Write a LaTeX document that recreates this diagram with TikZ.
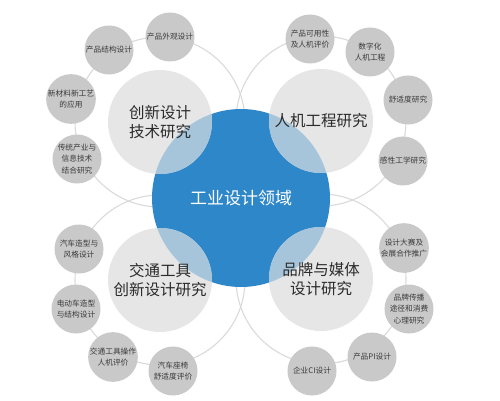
\documentclass[tikz,border=0pt]{standalone}
\usepackage{fontspec}
\setmainfont{Noto Sans CJK SC}
\begin{document}
\begin{tikzpicture}[x=1pt,y=-1pt,
  ring/.style={draw=ringgray,line width=1.1pt},
  hub/.style={circle,fill=hubblue,minimum size=178pt,inner sep=0pt,text=white,font=\fontsize{17}{20}\selectfont},
  topic/.style={circle,fill=topicgray,minimum size=104pt,inner sep=0pt,align=center,text=textdark,
    font=\fontsize{15.5}{19.5}\selectfont,
    path picture={\fill[ovlblue] (c.center) circle[radius=89pt];}},
  leaf/.style={circle,fill=leafgray,minimum size=49pt,inner sep=0pt,align=center,text=textmid,
    font=\fontsize{7.7}{11.5}\selectfont}]
\definecolor{hubblue}{HTML}{2E87C8}
\definecolor{ovlblue}{HTML}{A6C5DB}
\definecolor{topicgray}{HTML}{E6E6E6}
\definecolor{leafgray}{HTML}{C9C9C9}
\definecolor{ringgray}{HTML}{DADADA}
\definecolor{textdark}{HTML}{2B2B2B}
\definecolor{textmid}{HTML}{3A3A3A}
\useasboundingbox[fill=white] (0,0) rectangle (500,401);
% centres
\coordinate (p1) at (160,122);
\coordinate (p2) at (321,121);
\coordinate (p3) at (160,280);
\coordinate (p4) at (321,279);
% rings
\draw[ring] (p1) circle[radius=85pt];
\draw[ring] (p2) circle[radius=85pt];
\draw[ring] (p3) circle[radius=85pt];
\draw[ring] (p4) circle[radius=85pt];
% hub
\node[hub] (c) at (241,198) {工业设计领域};
% topics
\node[topic] (g1) at (p1) {创新设计\\技术研究};
\node[topic] (g2) at (p2) {人机工程研究};
\node[topic] (g3) at (p3) {交通工具\\创新设计研究};
\node[topic] (g4) at (p4) {品牌与媒体\\设计研究};
% leaves top-left
\node[leaf] (a1) at (170,37) {产品外观设计};
\node[leaf] (a2) at (109,50) {产品结构设计};
\node[leaf] (a3) at (71,99) {新材料新工艺\\的应用};
\node[leaf] (a4) at (77,159) {传统产业与\\信息技术\\结合研究};
% leaves top-right
\node[leaf] (b1) at (310,39) {产品可用性\\及人机评价};
\node[leaf] (b2) at (370,52) {数字化\\人机工程};
\node[leaf] (b3) at (408,100) {舒适度研究};
\node[leaf] (b4) at (403,161) {感性工学研究};
% leaves bottom-left
\node[leaf] (d1) at (79,249) {汽车造型与\\风格设计};
\node[leaf] (d2) at (76,309) {电动车造型\\与结构设计};
\node[leaf] (d3) at (113,357) {交通工具操作\\人机评价};
\node[leaf] (d4) at (173,371) {汽车座椅\\舒适度评价};
% leaves bottom-right
\node[leaf] (e1) at (404,248) {设计大赛及\\会展合作推广};
\node[leaf] (e2) at (409,309) {品牌传播\\途径和消费\\心理研究};
\node[leaf] (e3) at (372,357) {产品PI设计};
\node[leaf] (e4) at (312,371) {企业CI设计};
\end{tikzpicture}
\end{document}
